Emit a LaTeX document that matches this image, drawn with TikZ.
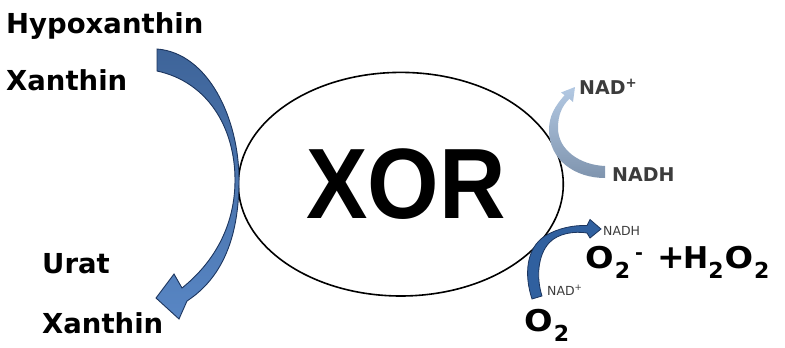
\documentclass[tikz,border=0pt]{standalone}
\usepackage{fontspec}
\setmainfont{DejaVu Sans}
\newfontfamily\xorfont{Liberation Sans}
\usetikzlibrary{shapes.geometric}
\definecolor{arrowline}{HTML}{1C355E}
\definecolor{arrowtop}{HTML}{3E6499}
\definecolor{arrowbot}{HTML}{5886C4}
\definecolor{lighttop}{HTML}{B3C9E3}
\definecolor{lightbot}{HTML}{7F94AE}
\definecolor{darkfill}{HTML}{30609F}
\definecolor{graytext}{HTML}{3C3C3C}
\tikzset{
  lbl/.style={anchor=base west, inner sep=0pt, font=\bfseries\fontsize{27.5}{30}\selectfont},
  graylbl/.style={anchor=base west, inner sep=0pt, text=graytext, font=\bfseries\fontsize{19}{21}\selectfont},
  smalllbl/.style={anchor=base west, inner sep=0pt, text=graytext, font=\fontsize{12.5}{14}\selectfont},
  chem/.style={anchor=base west, inner sep=0pt, font=\bfseries\fontsize{30}{32}\selectfont},
  bigarrow/.style={draw=arrowline, line width=0.9pt, top color=arrowtop, bottom color=arrowbot},
  lightarrow/.style={top color=lighttop, bottom color=lightbot},
  darkarrow/.style={draw=arrowline, line width=0.8pt, fill=darkfill},
}
\newcommand{\subtwo}{\raisebox{-10pt}{\fontsize{22}{22}\selectfont 2}}
\newcommand{\wideO}{\scalebox{1.12}[1]{O}}
\begin{document}
\begin{tikzpicture}[x=1pt,y=-1pt]
\useasboundingbox (0,0) rectangle (785,348);
% enzyme
\node[draw, ellipse, line width=1.6pt, minimum width=325pt, minimum height=223.6pt, inner sep=0pt] (xor) at (400.8,184.2) {};
\node[inner sep=0pt, font=\xorfont\bfseries\fontsize{100}{100}\selectfont] (xortext) at (406,184) {\scalebox{0.92}[1]{XOR}};
% substrates
\node[lbl] (hypo) at (6,33) {Hypoxanthin};
\node[lbl] (xan1) at (6,90) {Xanthin};
\node[lbl] (urat) at (42,273) {Urat};
\node[lbl] (xan2) at (42,333) {Xanthin};
% big curved arrow
\path[bigarrow] (157,49) .. controls (208,53) and (239,118) .. (239,180)
  .. controls (239,238) and (222,278) .. (187,301) -- (179,319) -- (156,298) -- (174,274) -- (182,288)
  .. controls (212,264) and (235,228) .. (235,180)
  .. controls (235,128) and (208,82) .. (157,71) -- cycle;
% NADH -> NAD+ (light)
\path[lightarrow] (605,166) .. controls (580,165) and (558,150) .. (558,128)
  .. controls (558,115) and (562,106) .. (569.4,98.8) -- (573,102) -- (575,87) -- (561,92.5) -- (564.6,95.2)
  .. controls (555,106) and (549,116) .. (549,130)
  .. controls (549,160) and (575,178) .. (605,178) -- cycle;
\node[graylbl] (nadp1) at (579,94) {NAD\textsuperscript{+}};
\node[graylbl] (nadh1) at (612,181) {NADH};
% NAD+ -> NADH (dark)
\path[darkarrow] (532,299) .. controls (524,275) and (526,248) .. (545,236)
  .. controls (558,228) and (574,225) .. (587,225.5) -- (590,219.5) -- (601,229) -- (590,238) -- (587,233)
  .. controls (575,231) and (558,233) .. (549,243)
  .. controls (538,255) and (536,277) .. (542,296) -- cycle;
\node[smalllbl] (nadh2) at (603,235) {NADH};
\node[smalllbl] (nadp2) at (547,295) {NAD\textsuperscript{+}};
% products
\node[chem] (o2) at (524,331) {\wideO\kern1pt\subtwo};
\node[chem] (o2m) at (585,268) {\wideO\kern1pt\subtwo\kern5pt\raisebox{9pt}{\fontsize{19}{20}\selectfont -}};
\node[chem, font=\bfseries\fontsize{33}{34}\selectfont] (plus) at (657,268) {+};
\node[chem] (h2o2) at (683,268) {H\subtwo\kern1pt\wideO\kern1pt\subtwo};
\end{tikzpicture}
\end{document}
